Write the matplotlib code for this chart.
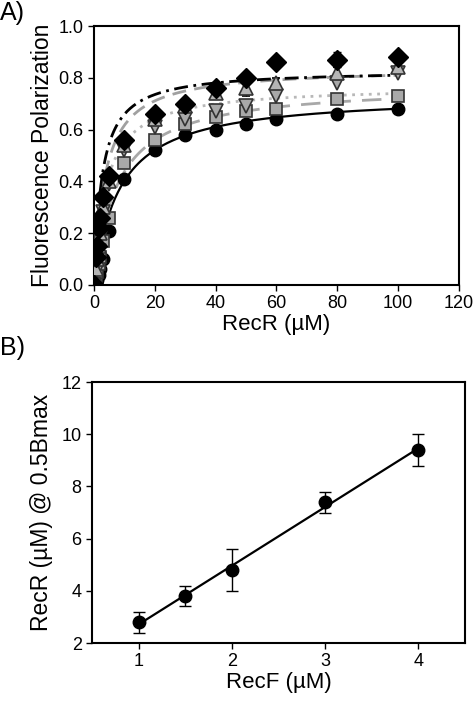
import numpy as np
import matplotlib
matplotlib.use("Agg")
import matplotlib.pyplot as plt

plt.rcParams["font.family"] = ["Liberation Sans", "DejaVu Sans"]

# Panel A: fluorescence polarization vs RecR, five RecF conditions
recr = [0, 0.5, 1, 1.5, 2, 3, 5, 10, 20, 30, 40, 50, 60, 80, 100]
fp_circle = [0.0, 0.01, 0.02, 0.04, 0.06, 0.10, 0.21, 0.41, 0.52, 0.58, 0.60, 0.62, 0.64, 0.66, 0.68]
fp_square = [0.0, 0.03, 0.05, 0.08, 0.11, 0.17, 0.26, 0.47, 0.56, 0.62, 0.65, 0.67, 0.68, 0.72, 0.73]
fp_down = [0.0, 0.05, 0.08, 0.13, 0.18, 0.28, 0.39, 0.52, 0.61, 0.64, 0.67, 0.69, 0.73, 0.78, 0.82]
fp_up = [0.0, 0.06, 0.10, 0.15, 0.20, 0.30, 0.40, 0.54, 0.64, 0.69, 0.74, 0.76, 0.78, 0.82, 0.84]
fp_diamond = [0.0, 0.11, 0.15, 0.22, 0.26, 0.34, 0.42, 0.56, 0.66, 0.70, 0.76, 0.80, 0.86, 0.87, 0.88]
err_up = [0, 0, 0, 0, 0, 0, 0, 0.01, 0.01, 0.01, 0.02, 0.03, 0.02, 0.02, 0.02]
err_diamond = [0, 0, 0, 0, 0, 0, 0, 0.01, 0.01, 0.01, 0.02, 0.01, 0.01, 0.03, 0.01]

# hyperbolic fit parameters (Bmax, Kd, start x)
fit_bmax = [0.737, 0.775, 0.769, 0.839, 0.831]
fit_kd = [8.3, 7.7, 4.0, 3.6, 2.6]
fit_start = [5, 4, 3, 2.5, 2]

# Panel B: RecR at half-maximal binding vs RecF
recf = [1, 1.5, 2, 3, 4]
half_recr = [2.8, 3.8, 4.8, 7.4, 9.4]
half_err = [0.4, 0.4, 0.8, 0.4, 0.6]

fig = plt.figure(figsize=(4.75, 7.03), dpi=100)

axA = fig.add_axes([0.198, 0.5946, 0.768, 0.3684])
fit_styles = [
    dict(color="black", lw=1.6, ls="-"),
    dict(color="#a8a8a8", lw=2.0, ls=(0, (7, 4))),
    dict(color="#b8b8b8", lw=2.0, ls=(0, (1, 2))),
    dict(color="#a0a0a0", lw=2.0, ls=(0, (5, 3))),
    dict(color="black", lw=2.0, ls=(0, (5, 2, 1, 2))),
]
for bmax, kd, x0, st in zip(fit_bmax, fit_kd, fit_start, fit_styles):
    xs = np.linspace(x0, 100, 200)
    axA.plot(xs, bmax * xs / (kd + xs), **st, zorder=2)

axA.plot(recr, fp_circle, "o", ms=9, mfc="black", mec="black", zorder=3)
axA.plot(recr, fp_square, "s", ms=9, mfc="#a9a9a9", mec="#333333", mew=1.2, zorder=3)
axA.plot(recr, fp_down, "v", ms=10.5, mfc="#a9a9a9", mec="#333333", mew=1.2, zorder=4)
axA.errorbar(recr, fp_up, yerr=err_up, fmt="^", ms=10.5, mfc="#b5b5b5", mec="#333333",
             mew=1.2, ecolor="black", elinewidth=1, capsize=3, zorder=4)
axA.errorbar(recr, fp_diamond, yerr=err_diamond, fmt="D", ms=10, mfc="black", mec="black",
             ecolor="black", elinewidth=1, capsize=3, zorder=5)

axA.set_xlim(0, 120)
axA.set_ylim(0, 1.0)
axA.set_xticks([0, 20, 40, 60, 80, 100, 120])
axA.set_yticks([0.0, 0.2, 0.4, 0.6, 0.8, 1.0])
axA.set_yticklabels(["0.0", "0.2", "0.4", "0.6", "0.8", "1.0"])
axA.set_xlabel("RecR (\u00b5M)", fontsize=16, labelpad=1)
axA.set_ylabel("Fluorescence Polarization", fontsize=16.5, labelpad=3)

axB = fig.add_axes([0.194, 0.0853, 0.785, 0.3713])
slope, icpt = np.polyfit(recf, half_recr, 1)
xl = np.array([recf[0], recf[-1]])
axB.plot(xl, slope * xl + icpt, color="black", lw=1.6, zorder=2)
axB.errorbar(recf, half_recr, yerr=half_err, fmt="o", ms=9, mfc="black", mec="black",
             ecolor="black", elinewidth=1, capsize=4, zorder=3)
axB.set_xlim(0.5, 4.5)
axB.set_ylim(2, 12)
axB.set_xticks([1, 2, 3, 4])
axB.set_yticks([2, 4, 6, 8, 10, 12])
axB.set_xlabel("RecF (\u00b5M)", fontsize=16, labelpad=1)
axB.set_ylabel("RecR (\u00b5M) @ 0.5Bmax", fontsize=16.5, labelpad=6)

for ax in (axA, axB):
    for sp in ax.spines.values():
        sp.set_linewidth(1.5)
    ax.tick_params(direction="out", length=4, width=1, labelsize=13)

fig.text(0.0, 0.982, "A)", fontsize=18, va="center", ha="left")
fig.text(0.0, 0.505, "B)", fontsize=18, va="center", ha="left")

fig.savefig("out.png", dpi=100)
